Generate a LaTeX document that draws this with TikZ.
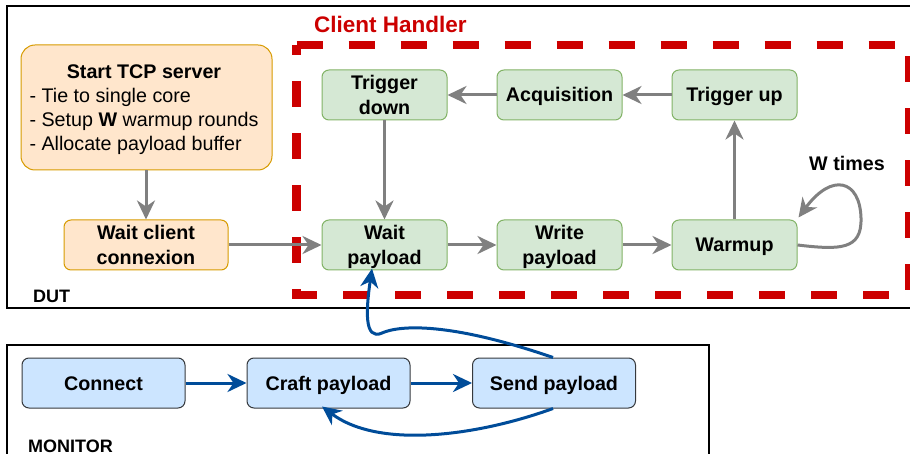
\documentclass[tikz,border=0pt]{standalone}
\usepackage{fontspec}
\setmainfont{Liberation Sans}
\usetikzlibrary{arrows.meta,calc}
\definecolor{orfill}{HTML}{FFE6CC}
\definecolor{ordraw}{HTML}{D79B00}
\definecolor{grfill}{HTML}{D5E8D4}
\definecolor{grdraw}{HTML}{82B366}
\definecolor{blfill}{HTML}{CCE5FF}
\definecolor{bldraw}{HTML}{36393D}
\definecolor{flowblue}{HTML}{004C99}
\definecolor{handlerred}{HTML}{CC0000}
\definecolor{flowgray}{HTML}{808080}
% two centred lines, baseline on the first one
\newcommand\twolines[2]{\begin{tabular}[t]{@{}c@{}}#1\\#2\end{tabular}}
\begin{document}
\begin{tikzpicture}[x=1pt,y=-1pt,
  every node/.style={font=\fontsize{19.7}{25}\selectfont\bfseries, inner sep=0pt},
  box/.style={draw, line width=1pt, rounded corners=7pt, minimum width=125pt, minimum height=50pt,
    text height=17pt, text depth=3pt},
  two/.style={text height=12pt, text depth=22pt},
  dutbox/.style={box, fill=orfill, draw=ordraw},
  hbox/.style={box, fill=grfill, draw=grdraw},
  mbox/.style={box, fill=blfill, draw=bldraw, minimum width=163pt},
  garrow/.style={draw=flowgray, line width=3pt, -{Stealth[length=19pt, width=18pt, inset=6pt]}},
  barrow/.style={draw=flowblue, line width=3pt, -{Stealth[length=19pt, width=18pt, inset=6pt]}},
  frame/.style={draw=black, line width=2pt},
  tag/.style={font=\fontsize{18}{20}\selectfont\bfseries, anchor=base west}
]
\useasboundingbox (0,0) rectangle (910,454);

% outer frames
\draw[frame] (914,6) -- (7,6) -- (7,307.5) -- (914,307.5);
\draw[frame] (7,460) -- (7,345) -- (709,345) -- (709,460);
\node[tag] (dutlabel) at (33,302) {DUT};
\node[tag] (monlabel) at (28,452) {MONITOR};

% client handler region
\draw[handlerred, line width=8.5pt, dash pattern=on 26pt off 26pt]
  (296.5,45) -- (909.5,45) -- (909.5,295) -- (296.5,295) -- cycle;
\node[font=\fontsize{22.5}{26}\selectfont\bfseries, text=handlerred, anchor=base west]
  (chlabel) at (314,33) {Client Handler};

% DUT nodes
\node[dutbox, rounded corners=14pt, minimum width=251pt, minimum height=125pt,
      text height=17pt, text depth=74pt] (start) at (146.5,107.5)
  {\fontsize{19.7}{24}\selectfont
   \begin{tabular}[t]{@{}l@{\hspace{5pt}}}
   \multicolumn{1}{@{}c@{\hspace{5pt}}}{\bfseries Start TCP server}\\
   \mdseries - Tie to single core\\
   \mdseries - Setup \textbf{W} warmup rounds\\
   \mdseries - Allocate payload buffer
   \end{tabular}};
\node[dutbox, two, minimum width=164pt] (waitc) at (146,245) {\twolines{Wait client}{connexion}};

\node[hbox, two] (trigdown) at (384.5,95) {\twolines{Trigger}{down}};
\node[hbox] (acq) at (559.5,95) {Acquisition};
\node[hbox] (trigup) at (734.5,95) {Trigger up};
\node[hbox, two] (waitp) at (384.5,245) {\twolines{Wait}{payload}};
\node[hbox, two] (write) at (559.5,245) {\twolines{Write}{payload}};
\node[hbox] (warmup) at (734.5,245) {Warmup};
\node (wtimes) at (847,163) {W times};

% monitor nodes
\node[mbox] (connect) at (103.5,383) {Connect};
\node[mbox] (craft) at (328.5,383) {Craft payload};
\node[mbox] (send) at (554,383) {Send payload};

% DUT flow
\draw[garrow] (start.south -| waitc.north) -- (waitc.north);
\draw[garrow] (waitc) -- (waitp);
\draw[garrow] (waitp) -- (write);
\draw[garrow] (write) -- (warmup);
\draw[garrow] (warmup) -- (trigup);
\draw[garrow] (trigup) -- (acq);
\draw[garrow] (acq) -- (trigdown);
\draw[garrow] (trigdown) -- (waitp);
\draw[garrow] (warmup.east) .. controls (840,250) and (862,250) .. (861,218)
  .. controls (860,180) and (832,172) .. ([xshift=1pt,yshift=2pt]warmup.north east);

% monitor flow
\draw[barrow] (connect) -- (craft);
\draw[barrow] (craft) -- (send);
\draw[barrow] ([xshift=-1pt]send.north) .. controls (450,322) and (400,325) .. (382,333)
  .. controls (364,341) and (366,310) .. ([xshift=-12.5pt,yshift=2pt]waitp.south);
\draw[barrow] ([xshift=-1pt]send.south) .. controls (480,435) and (380,450) .. ([xshift=-6.5pt,yshift=2pt]craft.south);
\end{tikzpicture}
\end{document}
